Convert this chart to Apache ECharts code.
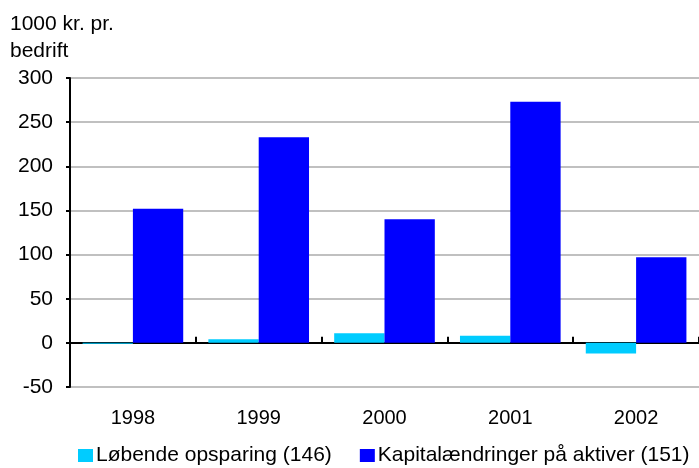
<!DOCTYPE html>
<html>
<head>
<meta charset="utf-8">
<script src="https://cdn.jsdelivr.net/npm/echarts@6/dist/echarts.min.js"></script>
<style>
  html, body { margin: 0; padding: 0; background: #fff; }
  #chart { width: 699px; height: 468px; }
</style>
</head>
<body>
<div id="chart"></div>
<script>
// data
var years = ['1998', '1999', '2000', '2001', '2002'];
var lobende = [-1, 4, 11, 8, -12];          // Løbende opsparing (146)
var kapital = [152, 233, 140, 273, 97];     // Kapitalændringer på aktiver (151)
var yTicks = [-50, 0, 50, 100, 150, 200, 250, 300];

var font = 'Liberation Sans, Arial, sans-serif';
var chart = echarts.init(document.getElementById('chart'));

var option = {
    animation: false,
    title: {
        text: '1000 kr. pr.\nbedrift',
        left: 5, top: 6,
        textStyle: { fontFamily: font, fontSize: 21, fontWeight: 'normal', color: '#000', lineHeight: 27 }
    },
    legend: {
        top: 440, left: 73,
        itemWidth: 15, itemHeight: 13, itemGap: 28,
        icon: 'rect',
        textStyle: { fontFamily: font, fontSize: 21, color: '#000', padding: [0, 0, 0, -2] },
        data: ['Løbende opsparing (146)', 'Kapitalændringer på aktiver (151)']
    },
    grid: { left: 70, right: -2, top: 78, bottom: 81 },
    xAxis: [
        { // labels at the bottom
            type: 'category', data: years, position: 'bottom',
            axisLine: { show: false, onZero: false },
            axisTick: { show: false },
            axisLabel: { fontFamily: font, fontSize: 20, color: '#000', margin: 21 }
        },
        { // zero line with ticks pointing up
            type: 'category', data: years, position: 'top',
            axisLine: { onZero: true, lineStyle: { color: '#000', width: 2 } },
            axisTick: { show: true, length: 6, lineStyle: { color: '#000', width: 2 } },
            axisLabel: { show: false }
        }
    ],
    yAxis: {
        type: 'value', min: yTicks[0], max: yTicks[yTicks.length - 1], interval: 50,
        axisLine: { show: true, lineStyle: { color: '#000', width: 2 } },
        axisTick: { show: true, length: 4, lineStyle: { color: '#000', width: 2 } },
        axisLabel: { fontFamily: font, fontSize: 21, color: '#000', margin: 17 },
        splitLine: { lineStyle: { color: '#c0c0c0', width: 2 } }
    },
    series: [
        {
            name: 'Løbende opsparing (146)', type: 'bar', xAxisIndex: 0,
            data: lobende, itemStyle: { color: '#00ccff' },
            barGap: '0%', barCategoryGap: '20%'
        },
        {
            name: 'Kapitalændringer på aktiver (151)', type: 'bar', xAxisIndex: 0,
            data: kapital, itemStyle: { color: '#0000ff' },
            barGap: '0%', barCategoryGap: '20%'
        }
    ]
};

chart.setOption(option);
</script>
</body>
</html>
